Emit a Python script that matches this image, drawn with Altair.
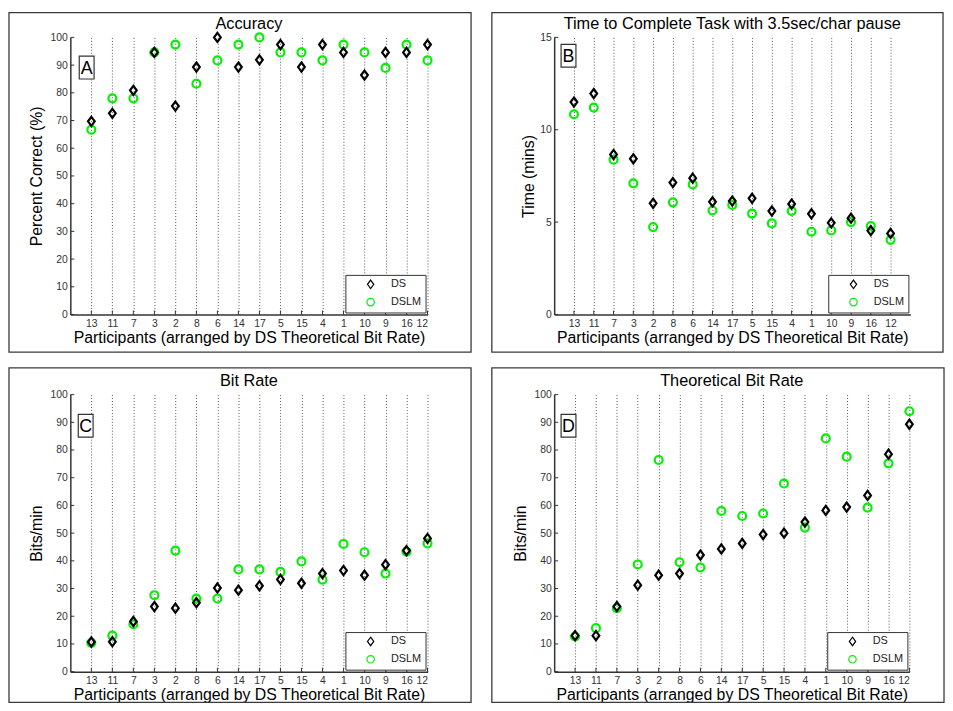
import altair as alt
import pandas as pd

participants = ["13", "11", "7", "3", "2", "8", "6", "14", "17", "5", "15", "4", "1", "10", "9", "16", "12"]
positions = list(range(1, 18))
series_names = ["DS", "DSLM"]

acc_ds = [69.7, 72.6, 80.9, 94.6, 75.2, 89.3, 100.0, 89.3, 91.9, 97.4, 89.3, 97.4, 94.6, 86.4, 94.6, 94.6, 97.4]
acc_dslm = [66.7, 78.0, 78.0, 94.6, 97.4, 83.3, 91.7, 97.4, 100.0, 94.6, 94.6, 91.7, 97.4, 94.6, 89.0, 97.4, 91.7]

time_ds = [11.5, 11.96, 8.66, 8.43, 6.02, 7.14, 7.38, 6.1, 6.14, 6.29, 5.6, 5.98, 5.45, 4.96, 5.21, 4.54, 4.39]
time_dslm = [10.84, 11.2, 8.38, 7.1, 4.73, 6.07, 7.04, 5.63, 5.93, 5.46, 4.93, 5.6, 4.48, 4.55, 5.0, 4.79, 4.04]

bit_ds = [10.7, 10.8, 18.1, 23.5, 22.9, 24.9, 30.2, 29.4, 31.0, 33.3, 31.9, 35.4, 36.5, 34.8, 38.6, 43.7, 48.1]
bit_dslm = [10.4, 13.0, 17.1, 27.6, 43.7, 26.4, 26.4, 36.9, 36.9, 36.0, 39.8, 33.2, 46.1, 43.1, 35.4, 43.3, 46.3]

tbit_ds = [13.0, 13.0, 23.5, 31.2, 34.8, 35.4, 42.1, 44.3, 46.3, 49.5, 50.0, 54.0, 58.2, 59.4, 63.6, 78.5, 89.3]
tbit_dslm = [12.7, 15.7, 22.9, 38.7, 76.4, 39.5, 37.6, 58.0, 56.2, 57.1, 67.9, 52.0, 84.2, 77.6, 59.2, 75.2, 94.0]

ticks_100 = [0, 10, 20, 30, 40, 50, 60, 70, 80, 90, 100]
ticks_15 = [0, 5, 10, 15]

FONT = "Liberation Sans"
GREEN = "#00f000"
DIAMOND = "M0,-1.15L0.85,0L0,1.15L-0.85,0Z"
PW = 361
PH = 280
XTITLE = "Participants (arranged by DS Theoretical Bit Rate)"

label_expr = "[" + ",".join("'" + p + "'" for p in participants) + "][datum.value - 1]"


def panel(letter, title, ytitle, ds, dslm, ymax, yticks, xmax, width,
          rect_x, rect_y, box, ytitle_pad):
    df = pd.DataFrame({
        "pos": positions * 2,
        "participant": participants * 2,
        "value": ds + dslm,
        "series": [series_names[0]] * len(ds) + [series_names[1]] * len(dslm),
    })
    one = pd.DataFrame({"label": [letter], "title": [title]})

    xscale = alt.Scale(domain=[0, xmax], nice=False, zero=True)
    yscale = alt.Scale(domain=[0, ymax], nice=False, zero=True)
    xaxis = alt.Axis(values=positions, labelExpr=label_expr, grid=True,
                     gridDash=[1, 2], gridColor="#555555", gridWidth=1,
                     ticks=False, tickSize=0, labelPadding=4,
                     title=XTITLE, titlePadding=1)
    yaxis = alt.Axis(values=yticks, grid=False, ticks=False, tickSize=0,
                     labelPadding=3, title=ytitle, titlePadding=ytitle_pad)

    border = alt.Chart(one).mark_rect(filled=False, stroke="#3a3a3a", strokeWidth=1.3).encode(
        x=alt.value(rect_x[0]), x2=alt.value(rect_x[1]),
        y=alt.value(rect_y[0]), y2=alt.value(rect_y[1]),
    )
    title_text = alt.Chart(one).mark_text(font=FONT, fontSize=16.5, align="center",
                                          baseline="alphabetic", color="black").encode(
        x=alt.value(width / 2), y=alt.value(-9), text="title:N",
    )

    leg = dict(
        title=None, orient="none", legendX=width - 83, legendY=240,
        strokeColor="#333333", fillColor="white", padding=4,
        symbolOffset=16, labelOffset=15, rowPadding=4,
        labelFont=FONT, labelFontSize=11, labelColor="#222222",
        symbolStrokeWidth=1.2, symbolSize=56, symbolFillColor="white",
    )

    points = alt.Chart(df).mark_point(filled=False, strokeWidth=2.2, size=64, opacity=1).encode(
        x=alt.X("pos:Q", scale=xscale, axis=xaxis),
        y=alt.Y("value:Q", scale=yscale, axis=yaxis),
        shape=alt.Shape("series:N",
                        scale=alt.Scale(domain=series_names, range=[DIAMOND, "circle"]),
                        legend=alt.Legend(**leg)),
        color=alt.Color("series:N",
                        scale=alt.Scale(domain=series_names, range=["#000000", GREEN]),
                        legend=alt.Legend(**leg)),
        order=alt.Order("series:N", sort="descending"),
    )

    ytick_rules = alt.Chart(pd.DataFrame({"t": yticks})).mark_rule(color="#333333", strokeWidth=1).encode(
        y=alt.Y("t:Q", scale=yscale, axis=yaxis), x=alt.value(0), x2=alt.value(4),
    )
    xtick_rules = alt.Chart(pd.DataFrame({"p": positions})).mark_rule(color="#333333", strokeWidth=1).encode(
        x=alt.X("p:Q", scale=xscale, axis=xaxis), y=alt.value(PH), y2=alt.value(PH - 4),
    )

    lbox = alt.Chart(one).mark_rect(fill="white", stroke="#333333", strokeWidth=1.2).encode(
        x=alt.value(box[0]), x2=alt.value(box[0] + 15),
        y=alt.value(box[1]), y2=alt.value(box[1] + 23),
    )
    ltext = alt.Chart(one).mark_text(font=FONT, fontSize=18, align="center", baseline="middle",
                                     color="black").encode(
        x=alt.value(box[0] + 7.5), y=alt.value(box[1] + 12.5), text="label:N",
    )

    return alt.layer(border, title_text, points, ytick_rules, xtick_rules, lbox, ltext).properties(
        width=width, height=PH,
    )


pA = panel("A", "Accuracy", "Percent Correct (%)", acc_ds, acc_dslm, 100, ticks_100, 17, PW,
           (-62, PW + 44), (-25, PH + 38), (9, 19), 6)
pB = panel("B", "Time to Complete Task with 3.5sec/char pause", "Time (mins)", time_ds, time_dslm,
           15, ticks_15, 18, 360, (-63, 393), (-25, PH + 38), (7, 7), 3)
pC = panel("C", "Bit Rate", "Bits/min", bit_ds, bit_dslm, 100, ticks_100, 17, PW,
           (-62, PW + 44), (-27, PH + 31), (8, 20), 6)
pD = panel("D", "Theoretical Bit Rate", "Bits/min", tbit_ds, tbit_dslm, 100, ticks_100, 17, 359,
           (-63, 394), (-27, PH + 31), (7, 20), 5)

row1 = alt.hconcat(pA, pB, spacing=19).resolve_scale(
    x="independent", y="independent", color="independent", shape="independent")
row2 = alt.hconcat(pC, pD, spacing=19).resolve_scale(
    x="independent", y="independent", color="independent", shape="independent")

chart = alt.vconcat(row1, row2, spacing=14).resolve_scale(
    x="independent", y="independent", color="independent", shape="independent"
).properties(padding=0, background="white").configure_view(stroke=None).configure_axis(
    labelFont=FONT, labelFontSize=10.5, labelColor="#333333",
    titleFont=FONT, titleFontSize=16, titleFontWeight="normal", titleColor="black",
    domainColor="#333333", domainWidth=1.5,
)

chart.save("out.html", embed_options={"renderer": "svg", "actions": False})
